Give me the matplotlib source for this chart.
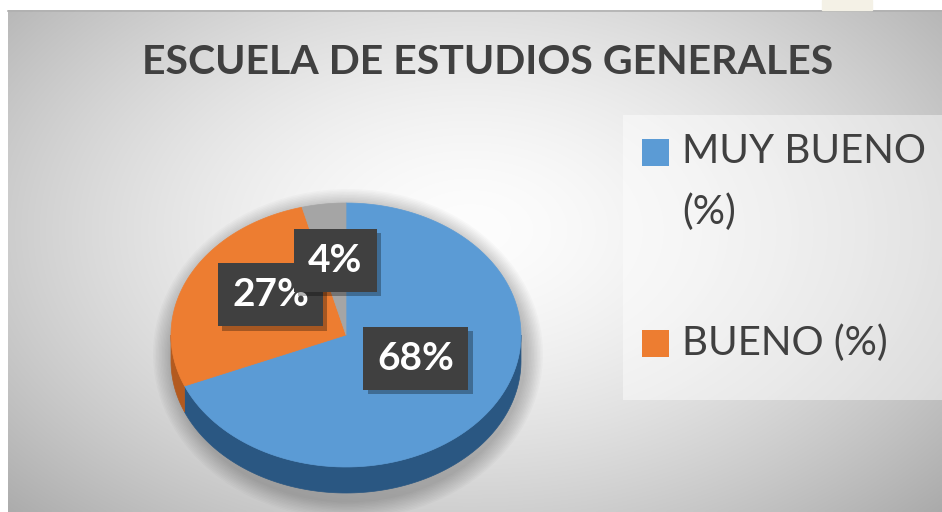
"""Pie 3D: Escuela de Estudios Generales."""
import numpy as np
import matplotlib
matplotlib.use("Agg")
import matplotlib.pyplot as plt
from matplotlib.patches import Polygon, Rectangle, Ellipse
import matplotlib.patheffects as pe

categorias = ["MUY BUENO (%)", "BUENO (%)", "REGULAR (%)"]
leyenda_txt = ["MUY BUENO\n(%)", "BUENO (%)"]
valores = [68, 27, 4]
etiquetas = ["68%", "27%", "4%"]

# ----------------------------- Estilo -----------------------------
COR_TXT = "#404040"
COR_TOPO = ["#5b9bd5", "#ed7d31", "#a5a5a5"]
COR_LADO = ["#2a5782", "#b35a1f", "#7a7a7a"]
FONTE = "Lato"

fig = plt.figure(figsize=(9.42, 5.12), dpi=100, facecolor="white")
ax = fig.add_axes([0, 0, 1, 1])
ax.set_xlim(0, 942)
ax.set_ylim(512, 0)
ax.axis("off")

# --- fundo com degradê radial ---
X0, Y0, X1, Y1 = 8, 10, 942, 512
gx, gy = np.meshgrid(np.linspace(X0, X1, 400), np.linspace(Y0, Y1, 220))
r = np.sqrt(((gx - 470) / 520) ** 2 + ((gy - 230) / 330) ** 2)
g = 253 - 58 * np.clip(r, 0, 1.25) ** 1.6
img = np.dstack([g, g, g]) / 255
ax.imshow(img, extent=(X0, X1, Y1, Y0), aspect="auto", zorder=0,
          interpolation="bilinear")
ax.plot([X0, X1], [Y0 + 0.5, Y0 + 0.5], color="#b0b0b0", lw=1.2, zorder=1)
ax.add_patch(Rectangle((822, 0), 50, 10, color="#f4f1e6", zorder=1))

# --- pizza 3D ---
cx, cy, a, b, prof = 346, 335, 175, 132, 26
total = sum(valores)
ang = 90 - 360 * np.cumsum([0] + valores) / total   # sentido horário a partir do topo

# sombra suave
for k in range(12):
    ax.add_patch(Ellipse((cx + 2, cy + prof / 2 + 6), 2 * a + 40 - 3 * k,
                         2 * b + prof + 40 - 3 * k, color="#000000",
                         alpha=0.018, lw=0, zorder=2))


def borda(t0, t1, n=120):
    t = np.radians(np.linspace(t0, t1, n))
    return cx + a * np.cos(t), cy - b * np.sin(t)


# laterais (parte da frente: 180°..360°)
for i in range(len(valores)):
    lo = ang[i + 1] % 360
    hi = lo + (ang[i] - ang[i + 1])
    s0, s1 = max(lo, 180), min(hi, 360)
    if s1 > s0:
        xs, ys = borda(s0, s1)
        pts = np.column_stack([np.r_[xs, xs[::-1]], np.r_[ys, ys[::-1] + prof]])
        ax.add_patch(Polygon(pts, closed=True, fc=COR_LADO[i], ec=COR_LADO[i],
                             lw=0.5, zorder=3))

# topo
for i in range(len(valores)):
    xs, ys = borda(ang[i + 1], ang[i])
    pts = np.column_stack([np.r_[cx, xs], np.r_[cy, ys]])
    ax.add_patch(Polygon(pts, closed=True, fc=COR_TOPO[i], ec=COR_TOPO[i],
                         lw=0.5, zorder=4))

# rótulos com caixa escura (centro ligeiramente acima, pela perspectiva)
lcx, lcy, frac = cx, cy - 12, 0.48
for i, txt in enumerate(etiquetas):
    m = np.radians((ang[i] + ang[i + 1]) / 2)
    lx = lcx + frac * a * np.cos(m)
    ly = lcy - frac * b * np.sin(m)
    t = ax.text(lx, ly, txt, ha="center", va="center", fontsize=28,
                fontweight="bold", family=FONTE, color="white",
                bbox=dict(boxstyle="square,pad=0.36", fc="#404040", lw=0),
                zorder=6 + i)
    t.get_bbox_patch().set_path_effects(
        [pe.SimplePatchShadow(offset=(3, -3), shadow_rgbFace="black", alpha=0.3),
         pe.Normal()])

# --- título ---
ax.text(488, 63, "ESCUELA DE ESTUDIOS GENERALES", ha="center", va="center",
        fontsize=29.5, fontweight="bold", family=FONTE, color=COR_TXT, zorder=6)

# --- legenda ---
ax.add_patch(Rectangle((623, 115), 330, 285, fc="white", alpha=0.45, lw=0,
                       zorder=2))
leg_y = [152, 343]
for i, (txt, yy) in enumerate(zip(leyenda_txt, leg_y)):
    ax.add_patch(Rectangle((642, yy - 13.5), 27, 27, fc=COR_TOPO[i], lw=0,
                           zorder=6))
    ax.text(682, yy - 19, txt, ha="left", va="top", fontsize=29,
            family=FONTE, color=COR_TXT, linespacing=1.75, zorder=6)

plt.savefig("out.png", dpi=100, facecolor="white")
